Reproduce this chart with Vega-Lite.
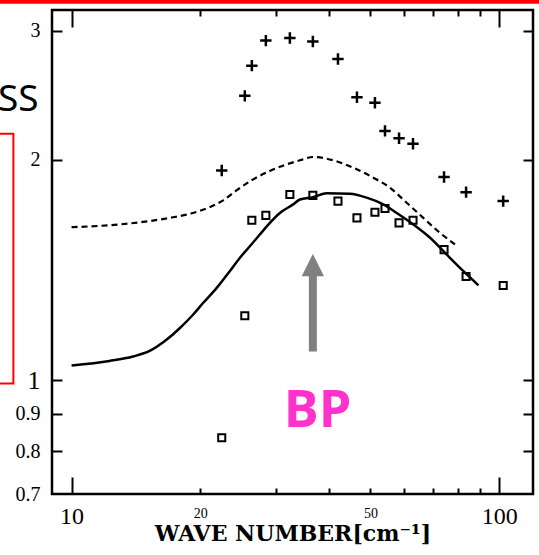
{
  "$schema": "https://vega.github.io/schema/vega-lite/v6.json",
  "width": 481,
  "height": 484,
  "autosize": "none",
  "padding": {"left": 52, "top": 10, "right": 6, "bottom": 61},
  "background": "white",
  "config": {
    "view": {"stroke": "black", "strokeWidth": 2.5},
    "axis": {"domain": false, "grid": false, "tickColor": "black", "tickWidth": 2, "labelColor": "black", "labelFont": "Liberation Serif", "titleFont": "DejaVu Serif", "titleColor": "black"}
  },
  "datasets": {
    "plus": [
      {"x": 22.45, "y": 1.933}, {"x": 25.42, "y": 2.444}, {"x": 26.40, "y": 2.687}, {"x": 28.47, "y": 2.907},
      {"x": 32.40, "y": 2.930}, {"x": 36.67, "y": 2.898}, {"x": 41.98, "y": 2.744}, {"x": 46.50, "y": 2.433},
      {"x": 51.23, "y": 2.391}, {"x": 54.08, "y": 2.189}, {"x": 58.33, "y": 2.139}, {"x": 62.89, "y": 2.103},
      {"x": 74.33, "y": 1.894}, {"x": 83.69, "y": 1.806}, {"x": 102.2, "y": 1.756}
    ],
    "square": [
      {"x": 22.45, "y": 0.835}, {"x": 25.42, "y": 1.225}, {"x": 26.40, "y": 1.654}, {"x": 28.47, "y": 1.679},
      {"x": 32.40, "y": 1.793}, {"x": 36.67, "y": 1.788}, {"x": 41.98, "y": 1.756}, {"x": 46.50, "y": 1.666},
      {"x": 51.23, "y": 1.696}, {"x": 54.08, "y": 1.716}, {"x": 58.33, "y": 1.640}, {"x": 62.89, "y": 1.654},
      {"x": 74.33, "y": 1.508}, {"x": 83.69, "y": 1.386}, {"x": 102.2, "y": 1.347}
    ],
    "solid": [
      {"x": 10.0, "y": 1.048}, {"x": 12.27, "y": 1.063}, {"x": 13.92, "y": 1.078}, {"x": 15.23, "y": 1.097},
      {"x": 16.67, "y": 1.136}, {"x": 17.90, "y": 1.178}, {"x": 19.23, "y": 1.229}, {"x": 20.30, "y": 1.275},
      {"x": 21.83, "y": 1.336}, {"x": 23.44, "y": 1.409}, {"x": 24.74, "y": 1.469}, {"x": 26.12, "y": 1.524},
      {"x": 27.56, "y": 1.581}, {"x": 29.09, "y": 1.640}, {"x": 30.70, "y": 1.692}, {"x": 32.98, "y": 1.738},
      {"x": 34.20, "y": 1.765}, {"x": 36.73, "y": 1.778}, {"x": 39.50, "y": 1.800}, {"x": 44.77, "y": 1.797},
      {"x": 49.00, "y": 1.775}, {"x": 53.58, "y": 1.738}, {"x": 57.61, "y": 1.692}, {"x": 63.00, "y": 1.632},
      {"x": 68.94, "y": 1.565}, {"x": 75.44, "y": 1.484}, {"x": 82.51, "y": 1.409}, {"x": 89.44, "y": 1.348}
    ],
    "dashed": [
      {"x": 10.0, "y": 1.618}, {"x": 12.27, "y": 1.628}, {"x": 14.69, "y": 1.645}, {"x": 16.96, "y": 1.666},
      {"x": 19.23, "y": 1.692}, {"x": 21.04, "y": 1.723}, {"x": 22.62, "y": 1.760}, {"x": 24.31, "y": 1.816},
      {"x": 26.59, "y": 1.880}, {"x": 29.09, "y": 1.930}, {"x": 31.84, "y": 1.971}, {"x": 34.20, "y": 1.996},
      {"x": 36.73, "y": 2.017}, {"x": 40.92, "y": 1.996}, {"x": 45.58, "y": 1.950}, {"x": 50.76, "y": 1.890},
      {"x": 55.56, "y": 1.831}, {"x": 60.78, "y": 1.747}, {"x": 66.46, "y": 1.666}, {"x": 72.74, "y": 1.589},
      {"x": 79.30, "y": 1.529}
    ],
    "redline": [{"x": 6.5, "x2": 130, "y": 3.285}],
    "redbox": [{"x": 5, "x2": 7.31, "y": 2.169, "y2": 0.99}],
    "shaft": [{"x": 36.67, "y": 1.095, "y2": 1.40}],
    "head": [{"x": 36.67, "y": 1.436}],
    "ss": [{"x": 8.37, "y": 2.33, "text": "SS"}],
    "bp": [{"x": 37.6, "y": 0.864, "text": "BP"}]
  },
  "resolve": {"axis": {"x": "independent", "y": "independent"}},
  "layer": [
    {
      "data": {"name": "plus"},
      "mark": {"type": "point", "shape": "M-1,0L1,0M0,-1L0,1", "filled": false, "stroke": "black", "strokeWidth": 2.5, "size": 130, "opacity": 1},
      "encoding": {
        "x": {"field": "x", "type": "quantitative", "scale": {"type": "log", "domain": [9, 120], "nice": false},
          "axis": {"orient": "bottom", "values": [10, 20, 30, 40, 50, 60, 70, 80, 90, 100],
            "tickSize": {"condition": {"test": "datum.value == 10 || datum.value == 100", "value": -17}, "value": -6},
            "labelPadding": {"condition": {"test": "datum.value == 10 || datum.value == 100", "value": 27}, "value": 18},
            "labelFontSize": {"condition": {"test": "datum.value == 10 || datum.value == 100", "value": 24}, "value": 14},
            "labelExpr": "(datum.value == 10 || datum.value == 20 || datum.value == 50 || datum.value == 100) ? format(datum.value, '~g') : ''",
            "title": "WAVE  NUMBER[cm⁻¹]", "titleFontSize": 22, "titleFontWeight": "bold", "titlePadding": -5}},
        "y": {"field": "y", "type": "quantitative", "scale": {"type": "log", "domain": [0.7, 3.2], "nice": false},
          "axis": {"orient": "left", "values": [0.7, 0.8, 0.9, 1, 2, 3],
            "tickSize": {"condition": {"test": "datum.value == 0.7", "value": 0}, "value": -10},
            "labelPadding": {"condition": {"test": "datum.value == 0.7", "value": 12}, "value": 22},
            "labelFontSize": {"condition": {"test": "datum.value == 1", "value": 26}, "value": 20},
            "labelExpr": "format(datum.value, '~g')", "title": null}}
      }
    },
    {
      "data": {"name": "square"},
      "mark": {"type": "point", "shape": "square", "filled": false, "stroke": "black", "strokeWidth": 2, "size": 50, "opacity": 1},
      "encoding": {
        "x": {"field": "x", "type": "quantitative", "scale": {"type": "log", "domain": [9, 120], "nice": false},
          "axis": {"orient": "top", "values": [10, 20, 30, 40, 50, 60, 70, 80, 90, 100], "labels": false, "title": null,
            "tickSize": {"condition": {"test": "datum.value == 10 || datum.value == 100", "value": -17}, "value": -6}}},
        "y": {"field": "y", "type": "quantitative", "scale": {"type": "log", "domain": [0.7, 3.2], "nice": false},
          "axis": {"orient": "right", "values": [0.8, 0.9, 1, 2, 3], "labels": false, "title": null, "tickSize": -10}}
      }
    },
    {
      "data": {"name": "solid"},
      "mark": {"type": "line", "color": "black", "strokeWidth": 2.5, "interpolate": "monotone"},
      "encoding": {
        "x": {"field": "x", "type": "quantitative", "scale": {"type": "log", "domain": [9, 120], "nice": false}, "axis": null},
        "y": {"field": "y", "type": "quantitative", "scale": {"type": "log", "domain": [0.7, 3.2], "nice": false}, "axis": null}
      }
    },
    {
      "data": {"name": "dashed"},
      "mark": {"type": "line", "color": "black", "strokeWidth": 2.2, "strokeDash": [6, 4], "interpolate": "monotone"},
      "encoding": {
        "x": {"field": "x", "type": "quantitative", "scale": {"type": "log", "domain": [9, 120], "nice": false}, "axis": null},
        "y": {"field": "y", "type": "quantitative", "scale": {"type": "log", "domain": [0.7, 3.2], "nice": false}, "axis": null}
      }
    },
    {
      "data": {"name": "redline"},
      "mark": {"type": "rule", "color": "#ff0000", "strokeWidth": 4, "clip": false},
      "encoding": {
        "x": {"field": "x", "type": "quantitative", "scale": {"type": "log", "domain": [9, 120], "nice": false}, "axis": null},
        "x2": {"field": "x2"},
        "y": {"field": "y", "type": "quantitative", "scale": {"type": "log", "domain": [0.7, 3.2], "nice": false}, "axis": null}
      }
    },
    {
      "data": {"name": "redbox"},
      "mark": {"type": "rect", "fillOpacity": 0, "stroke": "#ff0000", "strokeWidth": 2, "clip": false},
      "encoding": {
        "x": {"field": "x", "type": "quantitative", "scale": {"type": "log", "domain": [9, 120], "nice": false}, "axis": null},
        "x2": {"field": "x2"},
        "y": {"field": "y", "type": "quantitative", "scale": {"type": "log", "domain": [0.7, 3.2], "nice": false}, "axis": null},
        "y2": {"field": "y2"}
      }
    },
    {
      "data": {"name": "ss"},
      "mark": {"type": "text", "font": "Noto Sans", "fontSize": 37, "align": "right", "baseline": "alphabetic", "color": "black"},
      "encoding": {
        "x": {"field": "x", "type": "quantitative", "scale": {"type": "log", "domain": [9, 120], "nice": false}, "axis": null},
        "y": {"field": "y", "type": "quantitative", "scale": {"type": "log", "domain": [0.7, 3.2], "nice": false}, "axis": null},
        "text": {"field": "text"}
      }
    },
    {
      "data": {"name": "shaft"},
      "mark": {"type": "rule", "color": "#808080", "strokeWidth": 8},
      "encoding": {
        "x": {"field": "x", "type": "quantitative", "scale": {"type": "log", "domain": [9, 120], "nice": false}, "axis": null},
        "y": {"field": "y", "type": "quantitative", "scale": {"type": "log", "domain": [0.7, 3.2], "nice": false}, "axis": null},
        "y2": {"field": "y2"}
      }
    },
    {
      "data": {"name": "head"},
      "mark": {"type": "point", "shape": "M-1,1L0,-1L1,1Z", "filled": true, "color": "#808080", "size": 500, "opacity": 1, "strokeWidth": 0},
      "encoding": {
        "x": {"field": "x", "type": "quantitative", "scale": {"type": "log", "domain": [9, 120], "nice": false}, "axis": null},
        "y": {"field": "y", "type": "quantitative", "scale": {"type": "log", "domain": [0.7, 3.2], "nice": false}, "axis": null}
      }
    },
    {
      "data": {"name": "bp"},
      "mark": {"type": "text", "font": "Open Sans", "fontWeight": "bold", "fontSize": 52, "align": "center", "baseline": "alphabetic", "color": "#ff33cc"},
      "encoding": {
        "x": {"field": "x", "type": "quantitative", "scale": {"type": "log", "domain": [9, 120], "nice": false}, "axis": null},
        "y": {"field": "y", "type": "quantitative", "scale": {"type": "log", "domain": [0.7, 3.2], "nice": false}, "axis": null},
        "text": {"field": "text"}
      }
    }
  ]
}
